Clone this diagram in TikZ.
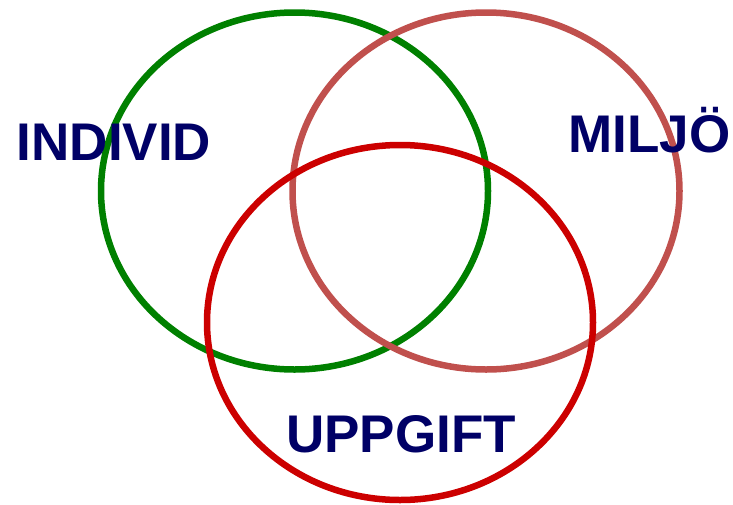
\documentclass[tikz,border=0pt]{standalone}
\usepackage{fontspec}
\setmainfont{Liberation Sans}
\definecolor{navy}{HTML}{000066}
\definecolor{cgreen}{HTML}{008000}
\definecolor{crose}{HTML}{C0504D}
\definecolor{cred}{HTML}{CC0000}
\begin{document}
\begin{tikzpicture}[x=1pt,y=-1pt,
  ring/.style={line width=6.5pt},
  lbl/.style={text=navy,font=\fontsize{53}{60}\selectfont\bfseries,anchor=base,inner sep=0pt}]
\useasboundingbox (0,0) rectangle (733,504);
\draw[ring,cgreen] (294.5,191) ellipse [x radius=193.5, y radius=178.5];
\draw[ring,crose] (486,191) ellipse [x radius=193.5, y radius=178.5];
\draw[ring,cred] (400,322.5) ellipse [x radius=193, y radius=177.5];
\node[lbl] (individ) at (114,160) {INDIVID};
\node[lbl] (miljo) at (649.5,152) {MILJÖ};
\node[lbl] (uppgift) at (401,452) {UPPGIFT};
\end{tikzpicture}
\end{document}
